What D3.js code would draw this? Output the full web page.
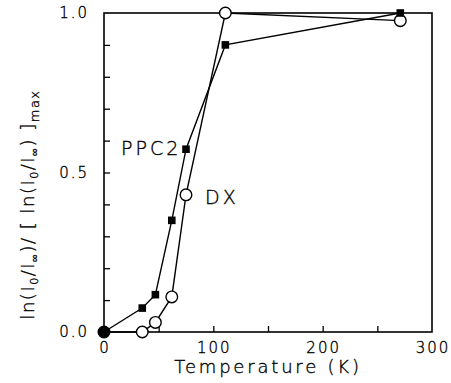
<!DOCTYPE html>
<html>
<head>
<meta charset="utf-8">
<script src="https://cdn.jsdelivr.net/npm/d3@7"></script>
<style>
  body { margin: 0; background: #fff; }
  svg { display: block; }
</style>
</head>
<body>
<div class="chart"></div>
<script>
// data
const temps = [0, 35, 47, 62, 75, 111, 271];
const ppc2 = [0, 0.075, 0.117, 0.35, 0.573, 0.9, 1.0];
const dx = [0, 0, 0.03, 0.11, 0.43, 1.0, 0.976];
const xTickLabels = [0, 100, 200, 300];
const yTickLabels = [0.0, 0.5, 1.0];

const width = 451, height = 383;
const margin = {top: 13, right: 19, bottom: 51, left: 104};

const x = d3.scaleLinear().domain([0, 300]).range([margin.left, width - margin.right]);
const y = d3.scaleLinear().domain([0, 1]).range([height - margin.bottom, margin.top]);

const svg = d3.select(".chart").append("svg")
    .attr("width", width)
    .attr("height", height)
    .attr("font-family", "DejaVu Sans, sans-serif")
    .attr("font-weight", 200)
    .attr("stroke-width", 0);

// frame
svg.append("rect")
    .attr("x", x(0)).attr("y", y(1))
    .attr("width", x(300) - x(0)).attr("height", y(0) - y(1))
    .attr("fill", "none").attr("stroke", "#000").attr("stroke-width", 1.6);

// inward ticks
svg.append("g")
    .attr("transform", `translate(0,${y(0)})`)
    .call(d3.axisTop(x).tickValues([50, 100, 150, 200, 250]).tickSize(6).tickFormat(""))
    .call(g => g.select(".domain").remove())
    .call(g => g.selectAll("line").attr("stroke-width", 1.3));

svg.append("g")
    .attr("transform", `translate(${x(0)},0)`)
    .call(d3.axisRight(y).tickValues(d3.range(1, 10).map(d => d / 10)).tickSize(6).tickFormat(""))
    .call(g => g.select(".domain").remove())
    .call(g => g.selectAll("line").attr("stroke-width", 1.3));

// all text gets a faint outline so the light face reads a bit darker
const ink = sel => sel.attr("stroke", "#000").attr("stroke-width", 0.35);

// tick labels
svg.append("g").call(ink)
  .selectAll("text")
  .data(xTickLabels)
  .join("text")
    .attr("x", d => x(d) + 1)
    .attr("y", y(0) + 21)
    .attr("text-anchor", "middle")
    .attr("font-size", 15)
    .attr("letter-spacing", 2)
    .text(d => d);

svg.append("g").call(ink)
  .selectAll("text")
  .data(yTickLabels)
  .join("text")
    .attr("x", x(0) - 15)
    .attr("y", d => y(d))
    .attr("dy", "0.35em")
    .attr("text-anchor", "end")
    .attr("font-size", 15)
    .attr("letter-spacing", 2)
    .text(d => d.toFixed(1));

// axis titles
svg.append("text").call(ink)
    .attr("x", 268)
    .attr("y", 373)
    .attr("text-anchor", "middle")
    .attr("font-size", 18)
    .attr("letter-spacing", 2.8)
    .text("Temperature  (K)");

const yl = svg.append("text").call(ink)
    .attr("transform", `translate(34,${(y(0) + y(1)) / 2 + 32}) rotate(-90)`)
    .attr("text-anchor", "middle")
    .attr("font-size", 18)
    .attr("letter-spacing", 1.5);
yl.append("tspan").text("ln(I");
yl.append("tspan").attr("font-size", 11).attr("dy", 4).text("0");
yl.append("tspan").attr("dy", -4).text("/I");
yl.append("tspan").attr("font-size", 11).attr("dy", 4).text("∞");
yl.append("tspan").attr("dy", -4).text(")/ [ ln(I");
yl.append("tspan").attr("font-size", 11).attr("dy", 4).text("0");
yl.append("tspan").attr("dy", -4).text("/I");
yl.append("tspan").attr("font-size", 11).attr("dy", 4).text("∞");
yl.append("tspan").attr("dy", -4).text(") ]");
yl.append("tspan").attr("font-size", 13).attr("dy", 5).text("max");

// lines
const line = d3.line().x(d => x(d[0])).y(d => y(d[1]));
const ppcPts = temps.map((t, i) => [t, ppc2[i]]);
const dxPts = temps.map((t, i) => [t, dx[i]]);

svg.append("path").datum(ppcPts).attr("d", line)
    .attr("fill", "none").attr("stroke", "#000").attr("stroke-width", 1.4);
svg.append("path").datum(dxPts).attr("d", line)
    .attr("fill", "none").attr("stroke", "#000").attr("stroke-width", 1.4);

// DX open circles
svg.append("g")
  .selectAll("circle")
  .data(dxPts)
  .join("circle")
    .attr("cx", d => x(d[0]))
    .attr("cy", d => y(d[1]))
    .attr("r", 5.8)
    .attr("fill", (d, i) => i === 0 ? "#000" : "#fff")
    .attr("stroke", "#000")
    .attr("stroke-width", 1.4);

// PPC2 filled squares
svg.append("g")
  .selectAll("rect")
  .data(ppcPts.slice(1))
  .join("rect")
    .attr("x", d => x(d[0]) - 3.8)
    .attr("y", d => y(d[1]) - 3.8)
    .attr("width", 7.6)
    .attr("height", 7.6)
    .attr("fill", "#000");

// series labels
svg.append("text").call(ink)
    .attr("x", 121).attr("y", 155)
    .attr("font-size", 19).attr("letter-spacing", 3)
    .text("PPC2");
svg.append("text").call(ink)
    .attr("x", 205).attr("y", 204)
    .attr("font-size", 19).attr("letter-spacing", 3)
    .text("DX");
</script>
</body>
</html>
